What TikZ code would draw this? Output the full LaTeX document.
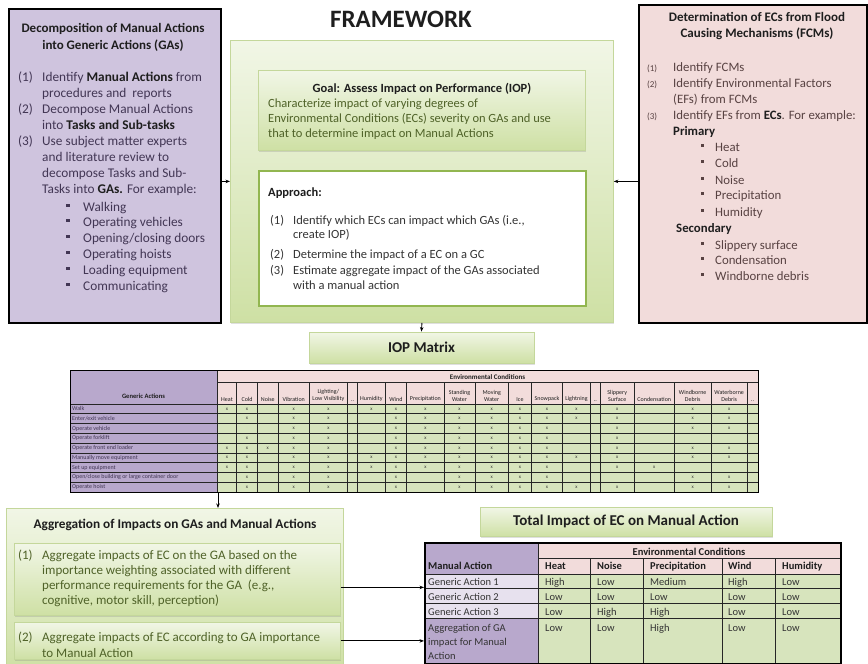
\documentclass[tikz,border=0pt]{standalone}
\usepackage{fontspec}
\setmainfont{Carlito}
\usetikzlibrary{shadows,arrows.meta,calc}

\definecolor{lavbox}{RGB}{207,196,222}
\definecolor{pinkbox}{RGB}{242,220,219}
\definecolor{gtop}{RGB}{241,246,230}
\definecolor{gbot}{RGB}{206,224,164}
\definecolor{gedge}{RGB}{196,215,155}
\definecolor{gdark}{RGB}{146,182,80}
\definecolor{olive}{RGB}{79,98,40}
\definecolor{purtxt}{RGB}{66,54,84}
\definecolor{redtxt}{RGB}{88,66,66}
\definecolor{greytxt}{RGB}{52,52,52}
\definecolor{darktxt}{RGB}{30,30,30}
\definecolor{cellgreen}{RGB}{215,228,189}
\definecolor{cellpink}{RGB}{242,220,219}
\definecolor{cellpurple}{RGB}{184,168,204}
\definecolor{celllav}{RGB}{231,225,238}

\newcommand\fsz[1]{\fontsize{#1}{#1}\selectfont}
\newcommand\kw[1]{\textbf{\color{darktxt}#1}}

\begin{document}
\begin{tikzpicture}[x=1pt,y=-1pt,
  panel/.style={draw=black,line width=1.8pt,anchor=north west,inner sep=0pt},
  gpanel/.style={draw=gedge,line width=0.8pt,anchor=north west,inner sep=0pt,
    top color=gtop,bottom color=gbot,
    drop shadow={opacity=0.25,shadow xshift=1pt,shadow yshift=-1.5pt}},
  tx/.style={anchor=base west,inner sep=0pt},
  tc/.style={anchor=base,inner sep=0pt},
  lt/.style={tx,text=purtxt,font=\fsz{13.3}},
  rt/.style={tx,text=redtxt,font=\fsz{12.8}},
  gtx/.style={tx,text=olive,font=\fsz{12.5}},
  aptx/.style={tx,text=greytxt,font=\fsz{12.5}},
  agtx/.style={tx,text=olive,font=\fsz{13}},
  ttl/.style={tc,text=darktxt,font=\bfseries\fsz{13}},
  conn/.style={-{Stealth[length=4.5pt,width=3.5pt]},line width=0.9pt,black},
  grid/.style={line width=0.8pt,black!85},
  mk/.style={inner sep=0pt,font=\fsz{5},text=black!80},
  bt/.style={tx,text=greytxt,font=\fsz{10.5}},
  bh/.style={tx,text=darktxt,font=\bfseries\fsz{10.5}},
]
\useasboundingbox (0,0) rectangle (868,664);
\fill[white] (0,0) rectangle (868,664);

% ---------- left panel: decomposition into generic actions
\node[panel,fill=lavbox,minimum width=212pt,minimum height=314pt] (decomp) at (8,8) {};
\node[ttl] (decompT1) at (113,32) {Decomposition of Manual Actions};
\node[ttl] (decompT2) at (113,49) {into Generic Actions (GAs)};
\node[lt] (d1n) at (18,81) {(1)};
\node[lt] (d1a) at (42,81) {Identify \kw{Manual Actions} from};
\node[lt] (d1b) at (42,97) {procedures and\ \ reports};
\node[lt] (d2n) at (18,113) {(2)};
\node[lt] (d2a) at (42,113) {Decompose Manual Actions};
\node[lt] (d2b) at (42,129) {into \kw{Tasks and Sub-tasks}};
\node[lt] (d3n) at (18,145) {(3)};
\node[lt] (d3a) at (42,145) {Use subject matter experts};
\node[lt] (d3b) at (42,161) {and literature review to};
\node[lt] (d3c) at (42,177) {decompose Tasks and Sub-};
\node[lt] (d3d) at (42,193) {Tasks into \kw{GAs.} For example:};
\foreach \yy/\lab [count=\i] in {211/Walking,226/Operating vehicles,242/{Opening/closing doors},258/Operating hoists,274/Loading equipment,290/Communicating}{
  \fill[purtxt] (66.3,\yy-7.5) rectangle +(3.3,3.3);
  \node[lt] (dbul\i) at (83,\yy) {\lab};
}

% ---------- centre panel
\node[tc,text=darktxt,font=\bfseries\fsz{25}] (fw) at (401,27) {FRAMEWORK};
\node[gpanel,minimum width=383pt,minimum height=282pt] (frame) at (230,40) {};
\node[gpanel,minimum width=327pt,minimum height=80pt] (goal) at (258,70) {};
\node[tc,text=darktxt,font=\bfseries\fsz{12.5}] (goalT) at (422,92) {Goal: Assess Impact on Performance (IOP)};
\node[gtx] (g1) at (268,107) {Characterize impact of varying degrees of};
\node[gtx] (g2) at (268,122) {Environmental Conditions (ECs) severity on GAs and use};
\node[gtx] (g3) at (268,137) {that to determine impact on Manual Actions};

\node[draw=gdark,line width=1.6pt,fill=white,anchor=north west,inner sep=0pt,
  minimum width=327pt,minimum height=135pt,
  drop shadow={opacity=0.2,shadow xshift=1pt,shadow yshift=-1.5pt}] (appr) at (258,170) {};
\node[tx,text=darktxt,font=\bfseries\fsz{12.5}] (apT) at (268,196) {Approach:};
\node[aptx] (a1n) at (270,224) {(1)};
\node[aptx] (a1a) at (293,224) {Identify which ECs can impact which GAs (i.e.,};
\node[aptx] (a1b) at (293,238) {create IOP)};
\node[aptx] (a2n) at (270,258) {(2)};
\node[aptx] (a2a) at (293,258) {Determine the impact of a EC on a GC};
\node[aptx] (a3n) at (270,274) {(3)};
\node[aptx] (a3a) at (293,274) {Estimate aggregate impact of the GAs associated};
\node[aptx] (a3b) at (293,289) {with a manual action};

% ---------- right panel: ECs from flood causing mechanisms
\node[panel,fill=pinkbox,minimum width=228pt,minimum height=318pt] (fcm) at (638,4) {};
\node[ttl] (fcmT1) at (757,21) {Determination of ECs from Flood};
\node[ttl] (fcmT2) at (757,37) {Causing Mechanisms (FCMs)};
\node[tx,text=redtxt,font=\fsz{9}] (f1n) at (647,71) {(1)};
\node[rt] (f1a) at (673,71) {Identify FCMs};
\node[tx,text=redtxt,font=\fsz{9}] (f2n) at (647,87) {(2)};
\node[rt] (f2a) at (673,87) {Identify Environmental Factors};
\node[rt] (f2b) at (673,103) {(EFs) from FCMs};
\node[tx,text=redtxt,font=\fsz{9}] (f3n) at (647,119) {(3)};
\node[rt] (f3a) at (673,119) {Identify EFs from \kw{ECs}. For example:};
\node[rt] (fprim) at (673,135) {\kw{Primary}};
\foreach \yy/\lab [count=\i] in {151/Heat,167/Cold,184/Noise,199/Precipitation,216/Humidity}{
  \fill[redtxt] (700.5,\yy-7.5) rectangle +(3.3,3.3);
  \node[rt] (fpb\i) at (715,\yy) {\lab};
}
\node[rt] (fsec) at (676,232) {\kw{Secondary}};
\foreach \yy/\lab [count=\i] in {249/Slippery surface,264/Condensation,280/Windborne debris}{
  \fill[redtxt] (700.5,\yy-7.5) rectangle +(3.3,3.3);
  \node[rt] (fsb\i) at (715,\yy) {\lab};
}

\draw[conn] (decomp.east |- frame.west) -- (frame.west);
\draw[conn] (fcm.west |- frame.east) -- (frame.east);

% ---------- IOP matrix
\node[gpanel,anchor=center,minimum width=225pt,minimum height=31pt,
  text=darktxt,font=\bfseries\fsz{15}] (iopbox) at (421.5,347.5) {IOP Matrix};
\draw[conn] (frame.south) -- (iopbox.north);

\fill[cellpurple] (70,370) rectangle (217.3,492);
\fill[cellpink] (217.3,370) rectangle (757.7,404);
\fill[cellgreen] (217.3,404) rectangle (757.7,492);
\draw[grid] (217.3,382) -- (757.7,382);
\foreach \k in {0,...,8} \draw[grid] (70,{404+\k*9.78}) -- (757.7,{404+\k*9.78});
\draw[grid] (217.3,370) -- (217.3,492);
\foreach \xx in {236.7,257.3,278.3,309,347.7,357.7,385,406.7,444,475,508.3,531.7,562.3,590.7,600,634.3,674.3,711,747.3}
  \draw[grid] (\xx,382) -- (\xx,492);
\node[draw=black,line width=1.2pt,anchor=north west,inner sep=0pt,
  minimum width=687.7pt,minimum height=122pt] (mat) at (70,370) {};
\node[inner sep=0pt,text=darktxt,font=\bfseries\fsz{7}] (matEC) at (487.5,377) {Environmental Conditions};
\node[inner sep=0pt,text=darktxt,font=\bfseries\fsz{6.6}] (matGA) at (143.5,396) {Generic Actions};
\foreach \c/\lab [count=\i] in {227/Heat,247/Cold,267.8/Noise,293.7/Vibration,328.4/{Lighting/\\Low Visibility},
  352.7/..,371.4/Humidity,395.9/Wind,425.4/Precipitation,459.5/{Standing\\Water},491.7/{Moving\\Water},
  520/Ice,547/Snowpack,576.5/Lightning,595.4/..,617.2/{Slippery\\Surface},654.3/Condensation,
  692.7/{Windborne\\Debris},729.2/{Waterborne\\Debris},752.5/..}
  \node[anchor=south,inner sep=0.6pt,align=center,text=darktxt,
    font=\fsz{6}\linespread{1.15}\selectfont] (ech\i) at (\c,402.5) {\lab};
\foreach \r/\lab in {1/Walk,2/{Enter/exit vehicle},3/Operate vehicle,4/Operate forklift,
  5/Operate front end loader,6/Manually move equipment,7/Set up equipment,
  8/{Open/close building or large container door},9/Operate hoist}
  \node[anchor=west,inner sep=0pt,text=purtxt,font=\fsz{6}] (ga\r) at (72,{404+(\r-0.5)*9.78}) {\lab};
\foreach \c/\xc/\rows in {1/227/{1,5,6,7},2/247/{1,2,4,5,6,7,8,9},3/267.8/{5},4/293.7/{1,...,9},
  5/328.4/{1,...,9},7/371.4/{1,6,7},8/395.9/{1,...,9},9/425.4/{1,...,7},10/459.5/{1,...,9},
  11/491.7/{1,...,9},12/520/{1,...,9},13/547/{1,...,9},14/576.5/{1,2,6,9},
  16/617.2/{1,2,3,4,5,6,7,9},17/654.3/{7},18/692.7/{1,2,3,5,6,8,9},19/729.2/{1,2,3,5,6,8,9}}
  \foreach \r in \rows
    \node[mk] (mk\c-\r) at (\xc,{404+(\r-0.5)*9.78}) {x};

% ---------- aggregation panel
\coordinate (matout) at (218,492);
\node[gpanel,minimum width=337pt,minimum height=160pt] (agg) at (6,508) {};
\draw[conn] (matout) -- (matout |- agg.north);
\node[ttl,font=\bfseries\fsz{13.3}] (aggT) at (175,528) {Aggregation of Impacts on GAs and Manual Actions};
\node[gpanel,drop shadow={opacity=0},minimum width=326pt,minimum height=72pt] (sub1) at (14,543) {};
\node[gpanel,drop shadow={opacity=0},minimum width=326pt,minimum height=37pt] (sub2) at (14,622) {};
\node[agtx] (s1n) at (18,559) {(1)};
\node[agtx] (s1a) at (42,559) {Aggregate impacts of EC on the GA based on the};
\node[agtx] (s1b) at (42,574) {importance weighting associated with different};
\node[agtx] (s1c) at (42,589) {performance requirements for the GA\ \ (e.g.,};
\node[agtx] (s1d) at (42,604) {cognitive, motor skill, perception)};
\node[agtx] (s2n) at (18,641) {(2)};
\node[agtx] (s2a) at (42,641) {Aggregate impacts of EC according to GA importance};
\node[agtx] (s2b) at (42,657) {to Manual Action};

% ---------- total impact table
\node[gpanel,minimum width=292pt,minimum height=29pt] (totbox) at (480,507) {};
\node[inner sep=0pt,text=darktxt,font=\bfseries\fsz{15}] (totT) at (626,521.5) {Total Impact of EC on Manual Action};

\fill[cellpink] (538,542) rectangle (840,574);
\fill[cellpurple] (424,542) rectangle (538,574);
\fill[celllav] (424,574) rectangle (538,618);
\fill[cellpurple] (424,618) rectangle (538,663);
\fill[cellgreen] (538,574) rectangle (840,663);
\draw[grid] (538,558) -- (840,558);
\foreach \yy in {574,588.5,603,618} \draw[grid] (424,\yy) -- (840,\yy);
\draw[grid] (538,542) -- (538,663);
\foreach \xx in {590,643,722,775} \draw[grid] (\xx,558) -- (\xx,663);
\node[draw=black,line width=1.6pt,anchor=north west,inner sep=0pt,
  minimum width=416pt,minimum height=121pt] (tbl) at (424,542) {};
\node[tc,text=darktxt,font=\bfseries\fsz{10.5}] (tblEC) at (689,555) {Environmental Conditions};
\node[bh] (hMA) at (428,569) {Manual Action};
\node[bh] (hHeat) at (545,569) {Heat};
\node[bh] (hNoise) at (597,569) {Noise};
\node[bh] (hPrec) at (650,569) {Precipitation};
\node[bh] (hWind) at (728,569) {Wind};
\node[bh] (hHum) at (782,569) {Humidity};
\node[bt] (r1) at (428,585) {Generic Action 1};
\node[bt] (r2) at (428,600) {Generic Action 2};
\node[bt] (r3) at (428,615) {Generic Action 3};
\node[bt] (r4a) at (428,631) {Aggregation of GA};
\node[bt] (r4b) at (428,645) {impact for Manual};
\node[bt] (r4c) at (428,659) {Action};
\foreach \yy/\a/\b/\c/\d/\e in {585/High/Low/Medium/High/Low,600/Low/Low/Low/Low/Low,
  615/Low/High/High/Low/Low,631/Low/Low/High/Low/Low}{
  \node[bt] (v\yy a) at (545,\yy) {\a};
  \node[bt] (v\yy b) at (597,\yy) {\b};
  \node[bt] (v\yy c) at (650,\yy) {\c};
  \node[bt] (v\yy d) at (728,\yy) {\d};
  \node[bt] (v\yy e) at (782,\yy) {\e};
}

\coordinate (s1out) at ([yshift=-8pt]sub1.east);
\draw[conn] (s1out) -- (s1out -| tbl.west);
\draw[conn] (sub2.east) -- (sub2.east -| tbl.west);
\end{tikzpicture}
\end{document}
